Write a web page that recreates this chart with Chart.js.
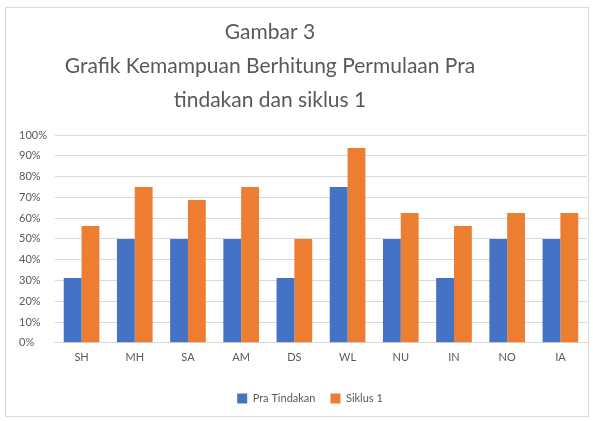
<!DOCTYPE html>
<html>
<head>
<meta charset="utf-8">
<script src="https://cdn.jsdelivr.net/npm/chart.js@4/dist/chart.umd.min.js"></script>
<style>
  html, body { margin: 0; padding: 0; background: #fff; }
  #frame { position: absolute; left: 5px; top: 7px; width: 584px; height: 410px; border: 1px solid #d9d9d9; box-sizing: border-box; }
  #wrap { position: absolute; left: 0; top: 0; width: 593px; height: 421px; }
</style>
</head>
<body>
<div id="frame"></div>
<div id="wrap"><canvas id="chart" width="593" height="421"></canvas></div>
<script>
// ── Data ──
const categories = ['SH', 'MH', 'SA', 'AM', 'DS', 'WL', 'NU', 'IN', 'NO', 'IA'];
const praTindakan = [31.25, 50, 50, 50, 31.25, 75, 50, 31.25, 50, 50];
const siklus1 = [56.25, 75, 68.75, 75, 50, 93.75, 62.5, 56.25, 62.5, 62.5];
const yTicks = [0, 10, 20, 30, 40, 50, 60, 70, 80, 90, 100];

const FONT = "Lato, 'Open Sans', sans-serif";

// el título y la leyenda del original no están centrados en el lienzo
const shiftBoxes = {
  id: 'shiftBoxes',
  afterLayout(chart) {
    const t = chart.titleBlock;
    if (t) { t.left -= 33; t.right -= 33; }
    const l = chart.legend;
    if (l) { l.left += 7; l.right += 7; }
  },
};

new Chart(document.getElementById('chart'), {
  type: 'bar',
  data: {
    labels: categories,
    datasets: [
      { label: 'Pra Tindakan', data: praTindakan, backgroundColor: '#4472c4' },
      { label: 'Siklus 1', data: siklus1, backgroundColor: '#ed7d31' },
    ],
  },
  plugins: [shiftBoxes],
  options: {
    responsive: false,
    animation: false,
    devicePixelRatio: 1,
    layout: { padding: { left: 19, right: 6, top: 15, bottom: 7 } },
    datasets: { bar: { categoryPercentage: 0.67, barPercentage: 1 } },
    plugins: {
      title: {
        display: true,
        text: ['Gambar 3', 'Grafik Kemampuan Berhitung Permulaan Pra', 'tindakan dan siklus 1'],
        color: '#595959',
        font: { family: FONT, size: 21, weight: 'normal', lineHeight: 1.62 },
        padding: { top: 0, bottom: 18 },
      },
      legend: {
        position: 'bottom',
        labels: {
          color: '#595959',
          font: { family: FONT, size: 11 },
          boxWidth: 10, boxHeight: 10,
          padding: 15,
        },
      },
      tooltip: { enabled: false },
    },
    scales: {
      x: {
        grid: { display: false },
        border: { color: '#d9d9d9' },
        ticks: { color: '#595959', font: { family: FONT, size: 11 }, padding: 0 },
        afterFit: axis => { axis.height += 14; },
      },
      y: {
        min: 0, max: 100,
        afterBuildTicks: axis => { axis.ticks = yTicks.map(v => ({ value: v })); },
        grid: { color: '#d9d9d9', drawTicks: false },
        border: { display: false },
        ticks: {
          color: '#595959',
          font: { family: FONT, size: 11 },
          padding: 4,
          crossAlign: 'far',
          callback: v => v + '%',
        },
      },
    },
  },
});
</script>
</body>
</html>
